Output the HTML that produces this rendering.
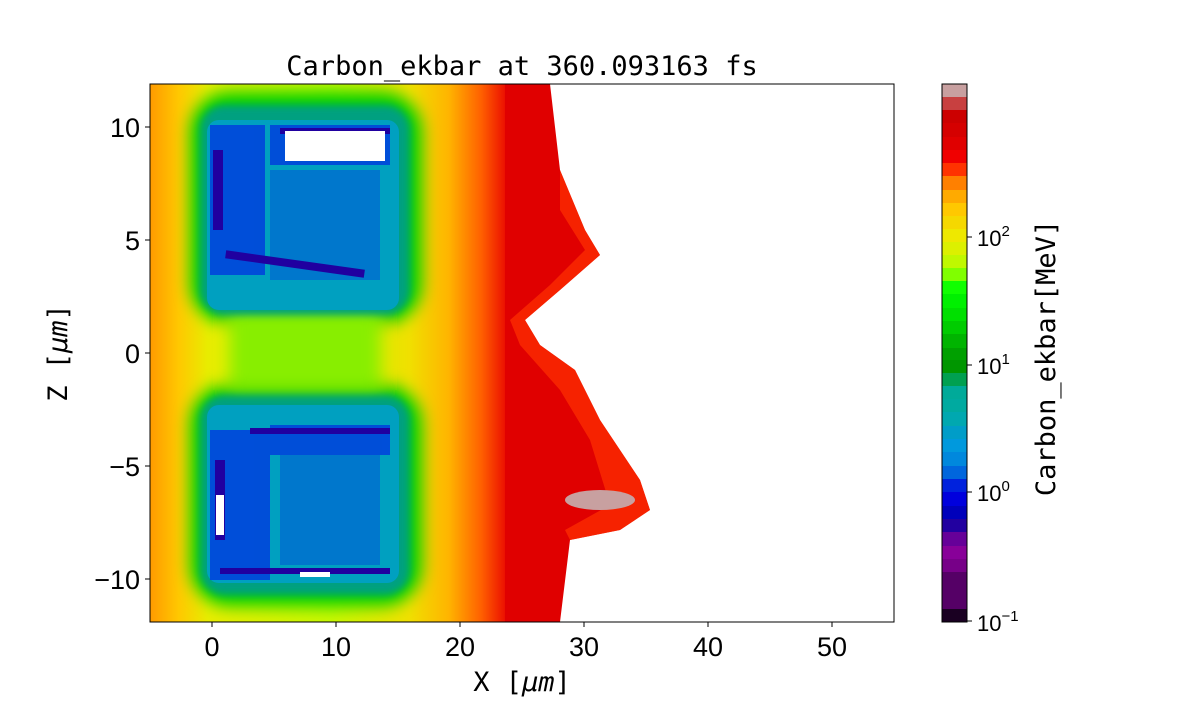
<!DOCTYPE html>
<html><head><meta charset="utf-8"><style>
body{margin:0;background:#fff;}
svg text{font-family:"Liberation Sans","DejaVu Sans",sans-serif;}
.m{font-family:"DejaVu Sans Mono","Liberation Mono",monospace;}
</style></head><body>
<svg width="1200" height="700" viewBox="0 0 1200 700" xmlns="http://www.w3.org/2000/svg">
<defs>
<clipPath id="pc"><rect x="150" y="84" width="744" height="538"/></clipPath>
<linearGradient id="base" x1="150" y1="0" x2="510" y2="0" gradientUnits="userSpaceOnUse">
<stop offset="0" stop-color="#ff9a00"/><stop offset="0.08" stop-color="#ffc800"/>
<stop offset="0.16" stop-color="#e8ec00"/><stop offset="0.5" stop-color="#c8f800"/>
<stop offset="0.72" stop-color="#f0e000"/><stop offset="0.83" stop-color="#ffb400"/>
<stop offset="0.92" stop-color="#ff6000"/><stop offset="1" stop-color="#e80000"/>
</linearGradient>
<filter id="b8" x="-20%" y="-20%" width="140%" height="140%"><feGaussianBlur stdDeviation="8"/></filter>
<filter id="b4" x="-20%" y="-20%" width="140%" height="140%"><feGaussianBlur stdDeviation="4"/></filter>
</defs>
<g clip-path="url(#pc)">
<rect x="150" y="84" width="744" height="538" fill="#fff"/>
<rect x="150" y="84" width="360" height="538" fill="url(#base)"/>
<polygon points="505,84 550,84 560,170 585,230 600,255 560,290 525,320 540,345 575,370 600,420 640,480 650,510 620,530 570,540 560,622 505,622" fill="#e00000"/>
<polygon points="560,170 585,230 600,255 560,290 525,320 540,345 575,370 600,420 640,480 650,510 620,530 570,540 565,530 610,505 590,440 560,390 520,345 510,320 550,285 585,250 560,210" fill="#ff3000" opacity="0.7"/>
<ellipse cx="600" cy="500" rx="35" ry="10" fill="#c8a0a0"/>
<g filter="url(#b8)">
<rect x="190" y="92" width="232" height="232" rx="40" fill="#00d000"/>
<rect x="190" y="384" width="232" height="222" rx="40" fill="#00d000"/>
<rect x="230" y="310" width="150" height="80" fill="#88ee00"/>
</g>
<g filter="url(#b4)">
<rect x="200" y="105" width="210" height="210" rx="25" fill="#00a080"/>
<rect x="200" y="395" width="210" height="200" rx="25" fill="#00a080"/>
</g>
<rect x="207" y="120" width="192" height="190" rx="12" fill="#00a0c0"/>
<rect x="207" y="405" width="192" height="178" rx="12" fill="#00a0c0"/>
<g fill="#0040dd" opacity="0.85">
<rect x="210" y="125" width="55" height="150"/>
<rect x="270" y="125" width="120" height="40"/>
<rect x="210" y="430" width="60" height="150"/>
<rect x="270" y="425" width="120" height="30"/>
<rect x="280" y="455" width="100" height="110" opacity="0.5"/>
<rect x="270" y="170" width="110" height="110" opacity="0.5"/>
</g>
<g fill="#2000a0">
<rect x="213" y="150" width="10" height="80"/><rect x="280" y="128" width="110" height="6"/>
<rect x="225" y="260" width="140" height="8" transform="rotate(8 295 264)"/>
<rect x="215" y="460" width="10" height="80"/><rect x="250" y="428" width="140" height="6"/>
<rect x="220" y="568" width="170" height="6"/>
</g>
<g fill="#fff">
<rect x="285" y="131" width="100" height="30"/>
<rect x="216" y="495" width="8" height="40"/>
<rect x="300" y="572" width="30" height="5"/>
</g>
</g>
<rect x="150" y="84" width="744" height="538" fill="none" stroke="#000" stroke-width="1"/>
<g stroke="#000" stroke-width="1">
<line x1="212" y1="622" x2="212" y2="627"/><line x1="336" y1="622" x2="336" y2="627"/>
<line x1="460" y1="622" x2="460" y2="627"/><line x1="584" y1="622" x2="584" y2="627"/>
<line x1="708" y1="622" x2="708" y2="627"/><line x1="832" y1="622" x2="832" y2="627"/>
<line x1="145" y1="127" x2="150" y2="127"/><line x1="145" y1="240" x2="150" y2="240"/>
<line x1="145" y1="353" x2="150" y2="353"/><line x1="145" y1="466" x2="150" y2="466"/>
<line x1="145" y1="579" x2="150" y2="579"/>
</g>
<g font-size="27" text-anchor="middle">
<text x="212" y="656">0</text><text x="336" y="656">10</text><text x="460" y="656">20</text>
<text x="584" y="656">30</text><text x="708" y="656">40</text><text x="832" y="656">50</text>
</g>
<g font-size="27" text-anchor="end">
<text x="140" y="137">10</text><text x="140" y="250">5</text><text x="140" y="363">0</text>
<text x="140" y="476">−5</text><text x="140" y="589">−10</text>
</g>
<text x="522" y="75" font-size="27" text-anchor="middle" class="m">Carbon_ekbar at 360.093163 fs</text>
<text x="522" y="691" font-size="27" text-anchor="middle" class="m">X [<tspan font-style="italic">μm</tspan>]</text>
<text transform="translate(67 353) rotate(-90)" font-size="27" text-anchor="middle" class="m">Z [<tspan font-style="italic">μm</tspan>]</text>
<g>
<rect x="942" y="84" width="25" height="14" fill="#c8a0a0"/>
<rect x="942" y="97" width="25" height="14" fill="#c84040"/>
<rect x="942" y="110" width="25" height="14" fill="#cc0000"/>
<rect x="942" y="123" width="25" height="14" fill="#d50000"/>
<rect x="942" y="137" width="25" height="14" fill="#e00000"/>
<rect x="942" y="150" width="25" height="14" fill="#f00000"/>
<rect x="942" y="163" width="25" height="14" fill="#ff3300"/>
<rect x="942" y="176" width="25" height="14" fill="#ff8000"/>
<rect x="942" y="190" width="25" height="14" fill="#ffaa00"/>
<rect x="942" y="203" width="25" height="14" fill="#ffc800"/>
<rect x="942" y="216" width="25" height="14" fill="#f5d800"/>
<rect x="942" y="229" width="25" height="14" fill="#eee800"/>
<rect x="942" y="242" width="25" height="14" fill="#dcf000"/>
<rect x="942" y="255" width="25" height="14" fill="#c0f800"/>
<rect x="942" y="268" width="25" height="14" fill="#80ff00"/>
<rect x="942" y="281" width="25" height="14" fill="#10ff00"/>
<rect x="942" y="294" width="25" height="14" fill="#00f000"/>
<rect x="942" y="308" width="25" height="14" fill="#00e000"/>
<rect x="942" y="321" width="25" height="14" fill="#00cc00"/>
<rect x="942" y="334" width="25" height="14" fill="#00b400"/>
<rect x="942" y="348" width="25" height="13" fill="#00a000"/>
<rect x="942" y="360" width="25" height="14" fill="#009600"/>
<rect x="942" y="373" width="25" height="14" fill="#00a050"/>
<rect x="942" y="386" width="25" height="14" fill="#00aa99"/>
<rect x="942" y="399" width="25" height="14" fill="#00aaa0"/>
<rect x="942" y="412" width="25" height="14" fill="#00a8b0"/>
<rect x="942" y="426" width="25" height="14" fill="#009dc8"/>
<rect x="942" y="439" width="25" height="14" fill="#0099dd"/>
<rect x="942" y="452" width="25" height="14" fill="#0088dd"/>
<rect x="942" y="466" width="25" height="14" fill="#0066dd"/>
<rect x="942" y="479" width="25" height="14" fill="#0022dd"/>
<rect x="942" y="492" width="25" height="14" fill="#0000dd"/>
<rect x="942" y="506" width="25" height="14" fill="#0000bb"/>
<rect x="942" y="519" width="25" height="14" fill="#2200a0"/>
<rect x="942" y="532" width="25" height="14" fill="#660099"/>
<rect x="942" y="546" width="25" height="14" fill="#880099"/>
<rect x="942" y="559" width="25" height="14" fill="#770088"/>
<rect x="942" y="572" width="25" height="14" fill="#550066"/>
<rect x="942" y="585" width="25" height="24" fill="#550066"/>
<rect x="942" y="609" width="25" height="13" fill="#1a0022"/>
<rect x="942" y="84" width="25" height="538" fill="none" stroke="#000"/>
<g stroke="#000"><line x1="967" y1="237" x2="972" y2="237"/><line x1="967" y1="365" x2="972" y2="365"/>
<line x1="967" y1="492" x2="972" y2="492"/><line x1="967" y1="621" x2="972" y2="621"/></g>
<g font-size="22">
<text x="977" y="246">10<tspan font-size="15" dy="-10">2</tspan></text>
<text x="977" y="374">10<tspan font-size="15" dy="-10">1</tspan></text>
<text x="977" y="501">10<tspan font-size="15" dy="-10">0</tspan></text>
<text x="977" y="631">10<tspan font-size="15" dy="-10">−1</tspan></text>
</g>
<text transform="translate(1055 358) rotate(-90)" font-size="27" text-anchor="middle" class="m">Carbon_ekbar[MeV]</text>
</g>
</svg>
</body></html>
